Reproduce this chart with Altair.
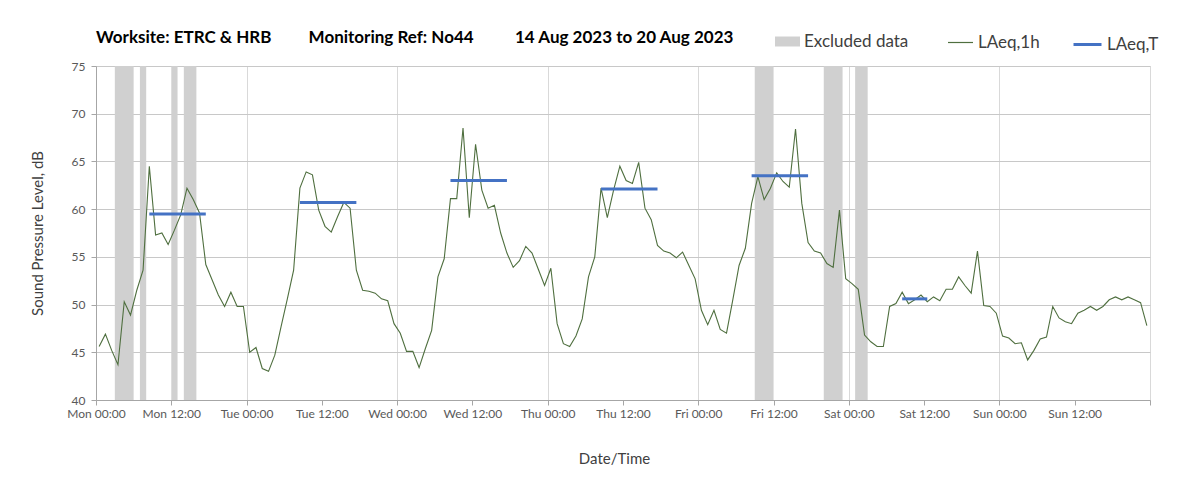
import altair as alt
import pandas as pd

# ---- data ----
days = ["Mon", "Tue", "Wed", "Thu", "Fri", "Sat", "Sun"]

laeq_1h = [
    45.6, 46.9, 45.2, 43.7, 50.3, 48.9, 51.5, 53.6, 64.5, 57.3,
    57.5, 56.3, 57.8, 59.4, 62.2, 61.0, 59.6, 54.2, 52.6, 51.0,
    49.8, 51.3, 49.8, 49.8, 45.0, 45.5, 43.3, 43.0, 44.7, 47.7,
    50.6, 53.6, 62.2, 63.9, 63.6, 59.9, 58.2, 57.6, 59.2, 60.7,
    60.1, 53.6, 51.5, 51.4, 51.2, 50.6, 50.4, 48.0, 47.0, 45.1,
    45.1, 43.4, 45.4, 47.3, 52.9, 54.8, 61.1, 61.1, 68.5, 59.1,
    66.8, 62.0, 60.1, 60.4, 57.5, 55.4, 53.9, 54.6, 56.1, 55.4,
    53.7, 52.0, 53.8, 48.0, 45.9, 45.6, 46.7, 48.5, 52.9, 55.0,
    62.2, 59.1, 62.0, 64.5, 63.0, 62.7, 64.9, 60.1, 58.9, 56.2,
    55.6, 55.4, 54.9, 55.5, 54.1, 52.7, 49.4, 47.9, 49.4, 47.4,
    47.0, 50.5, 54.1, 55.9, 60.6, 63.4, 61.0, 62.2, 63.8, 62.9,
    62.3, 68.4, 60.6, 56.5, 55.6, 55.4, 54.3, 53.9, 59.9, 52.7,
    52.2, 51.6, 46.8, 46.1, 45.6, 45.6, 49.8, 50.1, 51.3, 50.1,
    50.5, 51.0, 50.3, 50.8, 50.4, 51.6, 51.6, 52.9, 52.0, 51.2,
    55.6, 49.9, 49.8, 49.1, 46.7, 46.5, 45.9, 46.0, 44.2, 45.2,
    46.4, 46.6, 49.8, 48.6, 48.2, 48.0, 49.1, 49.4, 49.8, 49.4,
    49.8, 50.5, 50.8, 50.5, 50.8, 50.5, 50.2, 47.8,
]
hours = [k + 0.5 for k in range(len(laeq_1h))]  # hour-centred timestamps from Mon 00:00

excl_start = [3, 7, 12, 14, 105, 116, 121]
excl_end = [6, 8, 13, 16, 108, 119, 123]

laeqT_start = [8.5, 32.5, 56.5, 80.5, 104.5, 128.5]
laeqT_end = [17.5, 41.5, 65.5, 89.5, 113.5, 132.5]
laeqT_val = [59.5, 60.7, 63.0, 62.1, 63.5, 50.6]

x_ticks = list(range(0, 169, 12))
y_min, y_max = 40, 75

title_parts = ["Worksite: ETRC & HRB", "Monitoring Ref: No44", "14 Aug 2023 to 20 Aug 2023"]

# ---- tables ----
line_df = pd.DataFrame({"hour": hours, "level": laeq_1h, "series": "LAeq,1h"})
excl_df = pd.DataFrame({"start": excl_start, "end": excl_end,
                        "lo": y_min, "hi": y_max, "series": "Excluded data"})
rows = []
for i, (s, e, v) in enumerate(zip(laeqT_start, laeqT_end, laeqT_val)):
    rows.append({"hour": s, "level": v, "seg": i, "series": "LAeq,T"})
    rows.append({"hour": e, "level": v, "seg": i, "series": "LAeq,T"})
t_df = pd.DataFrame(rows)

FONT = "Lato"
W, H = 1054, 334
NB = "\u00a0"
title_text = title_parts[0] + NB * 9 + title_parts[1] + NB * 10 + title_parts[2]

xscale = alt.Scale(domain=[0, 168], nice=False, zero=False)
yscale = alt.Scale(domain=[y_min, y_max], nice=False, zero=False)

day_arr = "[" + ",".join("'%s'" % d for d in days) + "]"
x_axis = alt.Axis(
    values=x_ticks,
    labelExpr="datum.value >= 168 ? '' : " + day_arr + "[floor(datum.value/24)] + (datum.value % 24 == 0 ? ' 00:00' : ' 12:00')",
    title="Date/Time",
    titleFont=FONT, titleFontSize=15, titleFontWeight="normal", titleColor="#404040",
    titleY=58, titleX=518, titleBaseline="middle", titleAlign="center",
    labelFont=FONT, labelFontSize=12, labelColor="#595959", labelPadding=3,
    labelFlush=False, labelOverlap=False,
    tickSize=5, tickColor="#a6a6a6", domainColor="#a6a6a6",
    grid=True, gridColor="#d9d9d9",
    gridOpacity={"expr": "datum.value % 24 == 0 ? 1 : 0"},
)
y_axis = alt.Axis(
    values=list(range(40, 76, 5)),
    title="Sound Pressure Level, dB",
    titleFont=FONT, titleFontSize=15, titleFontWeight="normal", titleColor="#404040",
    titleX=-59, titleY=H / 2, titleBaseline="middle", titleAlign="center", titleAngle=270,
    labelFont=FONT, labelFontSize=12, labelColor="#595959", labelPadding=6,
    labelFlush=False,
    tickSize=5, tickColor="#a6a6a6", domainColor="#a6a6a6",
    grid=True, gridColor="#c8c8c8",
)

legend_common = dict(title=None, orient="none", padding=0, labelFont=FONT,
                     labelFontSize=17, labelColor="#404040", labelOffset=4)

bands = alt.Chart(excl_df).mark_rect(opacity=1).encode(
    x=alt.X("start:Q", scale=xscale, axis=x_axis),
    x2="end:Q",
    y=alt.Y("lo:Q", scale=yscale, axis=y_axis),
    y2="hi:Q",
    color=alt.Color("series:N", scale=alt.Scale(range=["#d0d0d0"]),
                    legend=alt.Legend(symbolType="M-1,-0.4H1V0.4H-1Z", symbolSize=625,
                                      symbolStrokeWidth=0, legendX=679, legendY=-37,
                                      **legend_common)),
)

line = alt.Chart(line_df).mark_line(strokeWidth=1.1).encode(
    x=alt.X("hour:Q", scale=xscale),
    y=alt.Y("level:Q", scale=yscale),
    color=alt.Color("series:N", scale=alt.Scale(range=["#4f6f3f"]),
                    legend=alt.Legend(symbolType="stroke", symbolSize=625,
                                      symbolStrokeWidth=1.2, legendX=851, legendY=-37,
                                      **legend_common)),
)

tline = alt.Chart(t_df).mark_line(strokeWidth=3).encode(
    x=alt.X("hour:Q", scale=xscale),
    y=alt.Y("level:Q", scale=yscale),
    detail="seg:N",
    color=alt.Color("series:N", scale=alt.Scale(range=["#4472C4"]),
                    legend=alt.Legend(symbolType="stroke", symbolSize=784,
                                      symbolStrokeWidth=3, legendX=976, legendY=-37,
                                      **legend_common)),
)

chart = alt.layer(bands, line, tline).resolve_scale(color="independent").resolve_legend(
    color="independent"
).properties(
    width=W, height=H,
    title=alt.TitleParams(
        text=title_text,
        anchor="start", frame="group", font=FONT, fontSize=17, fontWeight="bold",
        color="#000000", offset=18, dy=36,
    ),
    autosize=alt.AutoSizeParams(type="none"),
    padding={"left": 88, "top": 58, "right": 45, "bottom": 80},
).configure_view(stroke="#a6a6a6", strokeWidth=1).configure(background="white")

chart.save("out.html", embed_options={"renderer": "svg", "actions": False})
